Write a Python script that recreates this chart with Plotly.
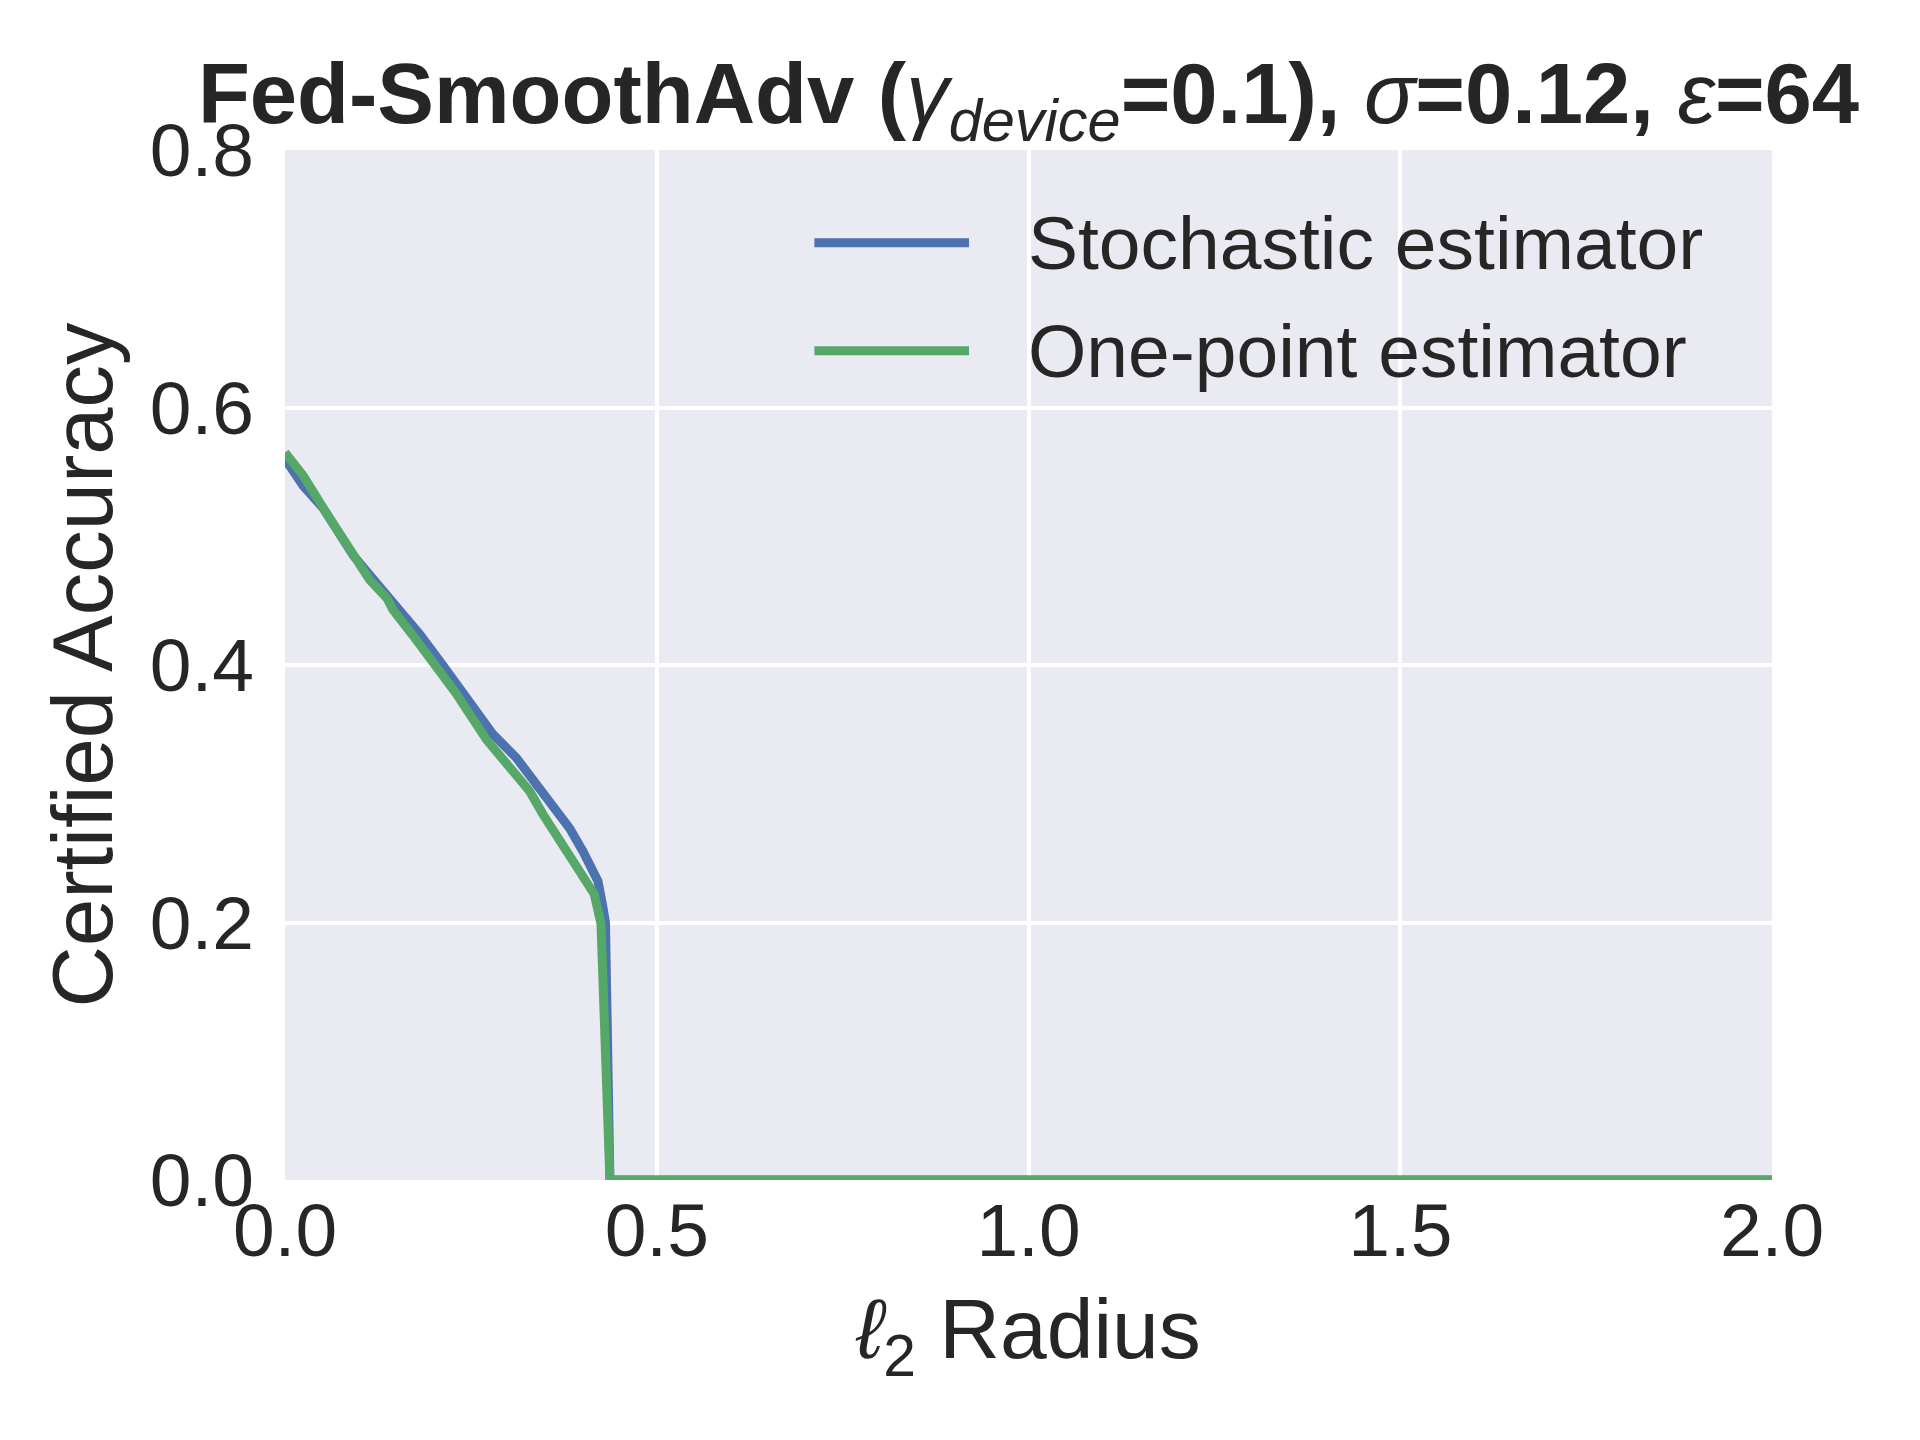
import plotly.graph_objects as go

# ----- data -----
stoch_x = [0.0, 0.0246, 0.051, 0.092, 0.137, 0.181, 0.212, 0.248, 0.280, 0.311,
           0.338, 0.365, 0.383, 0.401, 0.421, 0.427, 0.431, 0.437, 2.0]
stoch_y = [0.560, 0.539, 0.522, 0.485, 0.454, 0.424, 0.400, 0.371, 0.346, 0.328,
           0.307, 0.286, 0.273, 0.255, 0.232, 0.214, 0.200, 0.0, 0.0]

onept_x = [0.0, 0.0246, 0.060, 0.092, 0.114, 0.137, 0.145, 0.172, 0.204, 0.230,
           0.271, 0.293, 0.329, 0.347, 0.374, 0.396, 0.416, 0.425, 0.437, 2.0]
onept_y = [0.565, 0.547, 0.514, 0.484, 0.466, 0.452, 0.443, 0.423, 0.399, 0.378,
           0.342, 0.326, 0.302, 0.284, 0.260, 0.242, 0.222, 0.199, 0.0, 0.0]

names = ["Stochastic estimator", "One-point estimator"]
colors = ["#4C72B0", "#55A868"]

x_ticks = [0.0, 0.5, 1.0, 1.5, 2.0]
y_ticks = [0.0, 0.2, 0.4, 0.6, 0.8]

FONT = "Liberation Sans, Arial, sans-serif"
TXT = "#262626"

fig = go.Figure()
for xs, ys, nm, col in zip([stoch_x, onept_x], [stoch_y, onept_y], names, colors):
    fig.add_trace(go.Scatter(x=xs, y=ys, mode="lines", name=nm,
                             line=dict(color=col, width=9),
                             cliponaxis=False, showlegend=False))

# legend drawn by hand so the sample lines are as long as in the reference
leg_y = [0.910, 0.805]
for i, (nm, col) in enumerate(zip(names, colors)):
    fig.add_shape(type="line", xref="paper", yref="paper",
                  x0=0.356, x1=0.460, y0=leg_y[i], y1=leg_y[i],
                  line=dict(color=col, width=9))
    fig.add_annotation(x=0.498, y=leg_y[i], xref="paper", yref="paper",
                       text=nm, showarrow=False, xanchor="left", yanchor="middle",
                       font=dict(size=75, family=FONT, color=TXT))

title = ("<b>Fed-SmoothAdv (</b><i>γ</i><sub><i>device</i></sub><b>=0.1), </b>"
         "<i>σ</i><b>=0.12, </b><i>ε</i><b>=64</b>")

# the page adds an 8px body margin, so margins are shifted by 8px
fig.update_layout(
    width=1920, height=1440, autosize=False,
    margin=dict(l=277, r=156, t=142, b=268),
    paper_bgcolor="white", plot_bgcolor="#EAEAF2",
    font=dict(family=FONT, color=TXT),
    title=dict(text=title, x=0.5, xref="paper", xanchor="center",
               y=0.941, yref="container", yanchor="middle",
               font=dict(size=85, family=FONT, color=TXT)),
)
fig.update_xaxes(range=[0, 2.0], tickvals=x_ticks, tickformat=".1f",
                 showgrid=True, gridcolor="white", gridwidth=3.5,
                 zeroline=False, showline=False, ticks="",
                 tickfont=dict(size=75, family=FONT, color=TXT),
                 title=dict(text="<i>ℓ</i><sub>2</sub> Radius", standoff=28,
                            font=dict(size=84, family=FONT, color=TXT)))
fig.update_yaxes(range=[0, 0.8], tickvals=y_ticks, tickformat=".1f",
                 showgrid=True, gridcolor="white", gridwidth=3.5,
                 zeroline=False, showline=False, ticks="",
                 ticklabelstandoff=30,
                 tickfont=dict(size=75, family=FONT, color=TXT),
                 title=dict(text="Certified Accuracy", standoff=8,
                            font=dict(size=85, family=FONT, color=TXT)))

fig.write_html("out.html")
